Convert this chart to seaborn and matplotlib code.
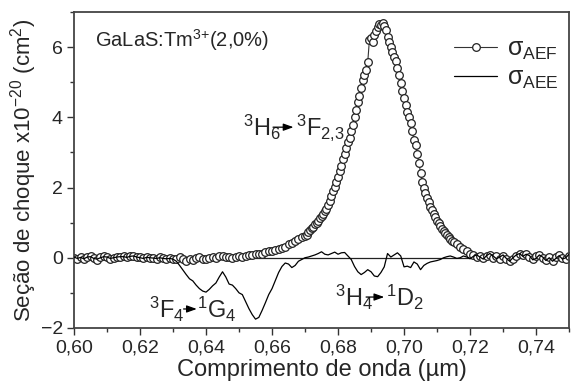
import numpy as np
import pandas as pd
import matplotlib
matplotlib.use("Agg")
import matplotlib.pyplot as plt
from matplotlib.ticker import MultipleLocator, FuncFormatter
import seaborn as sns

# sigma_AEF: three sampling segments (coarse, fine around the peak, coarse)
aef_x1 = np.round(np.arange(0.600, 0.6695, 0.001), 4)
aef_y1 = [
    0.00, -0.03, 0.02, -0.04, 0.03, 0.05, -0.02, -0.06, 0.01, 0.04,
    0.03, -0.03, -0.01, 0.02, 0.03, 0.04, 0.02, 0.05, 0.06, 0.03,
    0.01, -0.02, 0.02, 0.00, -0.01, -0.03, 0.01, -0.02, -0.04, -0.02,
    -0.05, -0.03, 0.01, -0.04, -0.08, -0.03, -0.06, -0.02, 0.01, -0.03,
    -0.05, -0.02, 0.02, 0.00, 0.04, 0.06, 0.02, 0.03, -0.02, 0.03,
    0.05, 0.02, 0.06, 0.08, 0.07, 0.10, 0.12, 0.10, 0.15, 0.18,
    0.20, 0.22, 0.25, 0.28, 0.32, 0.38, 0.42, 0.48, 0.52, 0.58,
]
aef_x2 = np.round(np.arange(0.670, 0.71525, 0.0005), 4)
aef_y2 = [
    0.62, 0.66, 0.72, 0.78, 0.84, 0.88, 0.95, 1.00, 1.06, 1.12,
    1.18, 1.25, 1.32, 1.40, 1.50, 1.62, 1.75, 1.90, 2.02, 2.15,
    2.30, 2.48, 2.62, 2.80, 2.95, 3.12, 3.30, 3.42, 3.60, 3.78,
    4.00, 4.20, 4.45, 4.62, 4.85, 5.05, 5.20, 5.35, 5.57, 6.20,
    6.25, 6.15, 6.35, 6.45, 6.58, 6.65, 6.62, 6.68, 6.60, 6.50,
    6.30, 6.15, 6.00, 5.85, 5.72, 5.60, 5.42, 5.22, 4.98, 4.75,
    4.55, 4.35, 4.15, 4.00, 3.85, 3.62, 3.35, 3.20, 2.95, 2.70,
    2.42, 2.15, 2.00, 1.85, 1.70, 1.58, 1.45, 1.35, 1.25, 1.15,
    1.05, 0.98, 0.90, 0.82, 0.76, 0.70, 0.64, 0.58, 0.53, 0.48,
    0.45,
]
aef_x3 = np.round(np.arange(0.716, 0.7505, 0.001), 4)
aef_y3 = [
    0.40, 0.32, 0.25, 0.18, 0.12, 0.08, 0.03, 0.06, 0.00, 0.05,
    0.08, -0.02, 0.04, -0.03, 0.06, -0.05, -0.10, -0.04, 0.05, 0.10,
    0.08, 0.12, 0.02, -0.05, 0.04, 0.09, 0.00, -0.06, 0.02, -0.08,
    0.03, 0.08, -0.02, -0.05, 0.06,
]

# sigma_AEE
aee_x = np.round(np.arange(0.600, 0.7505, 0.001), 4)
aee_y = [
    0.02, -0.02, 0.01, -0.03, 0.02, 0.03, -0.02, -0.04, 0.00, 0.03,
    0.02, -0.02, 0.00, 0.02, 0.03, 0.03, 0.01, 0.04, 0.05, 0.02,
    0.00, -0.02, 0.01, 0.00, -0.01, -0.02, 0.00, -0.02, -0.03, -0.02,
    -0.04, -0.10, -0.22, -0.35, -0.48, -0.60, -0.66, -0.78, -0.88, -0.95,
    -0.98, -0.90, -0.80, -0.72, -0.55, -0.40, -0.55, -0.75, -0.78, -0.88,
    -1.00, -1.05, -1.25, -1.45, -1.62, -1.75, -1.70, -1.50, -1.28, -1.05,
    -0.88, -0.65, -0.42, -0.25, -0.15, -0.18, -0.28, -0.22, -0.10, -0.05,
    0.00, 0.02, 0.05, 0.08, 0.12, 0.17, 0.10, 0.08, 0.12, 0.16,
    0.10, 0.14, 0.15, 0.05, -0.05, -0.25, -0.40, -0.48, -0.42, -0.34,
    -0.40, -0.52, -0.54, -0.42, -0.26, 0.12, 0.02, 0.08, 0.14, 0.05,
    -0.26, -0.24, -0.28, -0.12, -0.18, -0.34, -0.22, -0.16, -0.12, -0.10,
    -0.08, -0.05, 0.00, 0.03, 0.05, 0.02, -0.02, 0.00, 0.05, 0.02,
    -0.03, 0.04, 0.08, 0.02, -0.04, 0.06, 0.12, 0.05, -0.03, 0.02,
    0.08, -0.02, -0.10, 0.00, 0.08, 0.12, 0.04, 0.10, 0.06, -0.06,
    -0.02, 0.08, 0.02, -0.08, 0.00, -0.10, -0.02, 0.06, -0.04, 0.00, 0.10,
]

aef = pd.DataFrame({"wl": np.concatenate([aef_x1, aef_x2, aef_x3]),
                    "sigma": aef_y1 + aef_y2 + aef_y3})
aee = pd.DataFrame({"wl": aee_x, "sigma": aee_y})

sns.set_theme(style="ticks")
plt.rcParams["font.family"] = ["Liberation Sans", "DejaVu Sans"]
plt.rcParams["mathtext.fontset"] = "custom"
plt.rcParams["mathtext.rm"] = "Liberation Sans"
plt.rcParams["mathtext.it"] = "Liberation Sans"
plt.rcParams["mathtext.bf"] = "Liberation Sans:bold"

fig = plt.figure(figsize=(5.71, 3.89), dpi=100)
ax = fig.add_axes([0.1296, 0.157, 0.867, 0.812])

sns.lineplot(data=aef, x="wl", y="sigma", ax=ax, color="#333333", lw=0.8,
             marker="o", markersize=5.5, markerfacecolor="white",
             markeredgecolor="#222222", markeredgewidth=0.9,
             label=r"$\sigma_{\mathrm{AEF}}$", estimator=None)
sns.lineplot(data=aee, x="wl", y="sigma", ax=ax, color="black", lw=0.9,
             label=r"$\sigma_{\mathrm{AEE}}$", estimator=None, zorder=3)
ax.axhline(0, color="#222222", lw=0.9, zorder=1)

ax.set_xlim(0.60, 0.75)
ax.set_ylim(-2, 7)
ax.xaxis.set_major_locator(MultipleLocator(0.02))
ax.xaxis.set_minor_locator(MultipleLocator(0.01))
ax.yaxis.set_major_locator(MultipleLocator(2))
ax.yaxis.set_minor_locator(MultipleLocator(1))
ax.xaxis.set_major_formatter(FuncFormatter(lambda v, p: f"{v:.2f}".replace(".", ",")))
ax.tick_params(which="major", direction="out", length=5, width=1, labelsize=14,
               color="#333333", pad=3)
ax.tick_params(which="minor", direction="out", length=3, width=1, color="#333333")
for s in ax.spines.values():
    s.set_visible(True)
    s.set_color("#444444")
    s.set_linewidth(1.3)

ax.set_xlabel("Comprimento de onda (µm)", fontsize=17, labelpad=2)
ax.set_ylabel(r"Seção de choque x10$^{-20}$ (cm$^{2}$)", fontsize=16, labelpad=1)

ax.text(0.6064, 6.2, r"GaLaS:Tm$^{3{+}}$(2,0%)", fontsize=14.5, va="center")

fs = 17
arrow = dict(arrowstyle="-|>,head_length=0.5,head_width=0.18", color="black",
             lw=0.9, shrinkA=0, shrinkB=0)
ax.text(0.6512, 3.72, r"$^{3}$H$_{6}$", fontsize=fs, va="center")
ax.annotate("", xy=(0.6665, 3.72), xytext=(0.6603, 3.72), arrowprops=arrow)
ax.text(0.6673, 3.72, r"$^{3}$F$_{2{,}3}$", fontsize=fs, va="center")

ax.text(0.6228, -1.48, r"$^{3}$F$_{4}$", fontsize=fs, va="center")
ax.annotate("", xy=(0.6372, -1.46), xytext=(0.6332, -1.46), arrowprops=arrow)
ax.text(0.6374, -1.48, r"$^{1}$G$_{4}$", fontsize=fs, va="center")

ax.text(0.6790, -1.14, r"$^{3}$H$_{4}$", fontsize=fs, va="center")
ax.annotate("", xy=(0.6940, -1.12), xytext=(0.6885, -1.12), arrowprops=arrow)
ax.text(0.6944, -1.14, r"$^{1}$D$_{2}$", fontsize=fs, va="center")

ax.legend(loc="upper right", bbox_to_anchor=(1.01, 0.97), frameon=False,
          fontsize=18, handlelength=1.75, labelspacing=0.15, borderaxespad=0.2,
          handletextpad=0.4)

fig.savefig("out.png", dpi=100)
